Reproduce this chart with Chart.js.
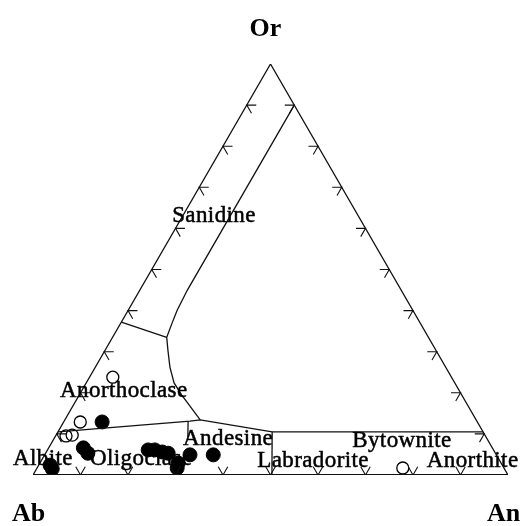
<!DOCTYPE html>
<html>
<head>
<meta charset="utf-8">
<title>Feldspar ternary</title>
<script src="https://cdn.jsdelivr.net/npm/chart.js@4/dist/chart.umd.min.js"></script>
<style>
  html, body { margin: 0; padding: 0; background: #fff; }
</style>
</head>
<body>
<canvas id="myChart" width="521" height="526"></canvas>
<script>
const ctx = document.getElementById("myChart");

// compositions are [An, Or] in percent, Ab = 100 - An - Or
const filledPoints = [
  [8.1, 12.9], [7.3, 6.6], [8.9, 5.3], [2.4, 2.4], [3.3, 1.5],
  [21.2, 6.1], [22.6, 6.1], [24.4, 5.6], [25.8, 5.3],
  [29.1, 2.9], [29.5, 1.7], [30.6, 4.9], [35.5, 4.9]
];
const openPoints = [
  [4.9, 23.8], [3.5, 12.9], [3.4, 9.7], [2.2, 9.5], [77.0, 1.7]
];

// field boundaries
const outline = [[0, 0], [100, 0], [0, 100], [0, 0]];
const sanidineLine = [
  [10, 90], [10, 45], [10.3, 40.1], [10.8, 36.95], [11.4, 33.5],
  [13.2, 30.4], [15.7, 26.25], [18.5, 22.4], [21.6, 19.45], [28.5, 13.4]
];
const anorthoclaseLine = [[0, 37.2], [11.4, 33.5]];
const plagioclaseLine = [[0, 10.5], [26.5, 13.1], [28.5, 13.4], [45.1, 10.5], [89.5, 10.5]];
const andesineLine = [[45.1, 10.5], [50.3, 0]];
const oligoclaseLine = [[26.1, 13.1], [28.0, 9.2]];

const tickValues = [10, 20, 30, 40, 50, 60, 70, 80, 90];
const fieldNames = ["Sanidine", "Anorthoclase", "Albite", "Oligoclase", "Andesine",
  "Labradorite", "Bytownite", "Anorthite"];
const cornerNames = ["Ab", "An", "Or"];

const H = Math.sqrt(3) / 2;

function toXY(c) {
  const an = c[0] / 100, or = c[1] / 100;
  return { x: an + or / 2, y: or * H };
}

// small double ticks on every side, each stroke parallel to another side
function buildTicks() {
  const L = 2;
  const out = [];
  const gap = { x: NaN, y: NaN };
  tickValues.forEach((t) => {
    // Ab-An side
    out.push(toXY([t - L, L]), toXY([t, 0]), toXY([t, L]), gap);
    // Ab-Or side
    out.push(toXY([L, t]), toXY([0, t]), toXY([L, t - L]), gap);
    // An-Or side
    out.push(toXY([100 - t - L, t]), toXY([100 - t, t]), toXY([100 - t, t - L]), gap);
  });
  return out;
}

function lineSet(pts, width) {
  return {
    type: "scatter",
    data: pts.map(toXY),
    showLine: true,
    borderColor: "#111",
    borderWidth: width || 1.3,
    pointRadius: 0,
    fill: false,
    tension: 0,
  };
}

const labelPlugin = {
  id: "ternaryLabels",
  afterDatasetsDraw(chart) {
    const c = chart.ctx;
    const xs = chart.scales.x, ys = chart.scales.y;
    const px = (v) => xs.getPixelForValue(v);
    const py = (v) => ys.getPixelForValue(v);
    // left/baseline anchors in plot units
    const fieldPos = [
      [0.293, 0.533], [0.057, 0.164], [-0.042, 0.021], [0.12, 0.021],
      [0.316, 0.063], [0.472, 0.017], [0.672, 0.059], [0.829, 0.017]
    ];
    c.save();
    c.fillStyle = "#000";
    c.strokeStyle = "#000";
    c.lineWidth = 0.5;
    c.textAlign = "left";
    c.textBaseline = "alphabetic";
    c.font = "23px 'Liberation Serif', 'Times New Roman', serif";
    c.letterSpacing = "0.4px";
    fieldNames.forEach((name, i) => {
      const x = px(fieldPos[i][0]), y = py(fieldPos[i][1]);
      c.fillText(name, x, y);
      c.strokeText(name, x, y);
    });
    c.letterSpacing = "0px";
    c.font = "bold 26px 'Liberation Serif', 'Times New Roman', serif";
    const ab = { x: px(0), y: py(0) };
    const an = { x: px(1), y: py(0) };
    const or = { x: px(0.5), y: py(H) };
    c.fillText(cornerNames[0], ab.x - 21, ab.y + 46);
    c.fillText(cornerNames[1], an.x - 21, an.y + 46);
    c.textAlign = "center";
    c.fillText(cornerNames[2], or.x - 5, or.y - 28);
    c.restore();
  },
};

let data = {
  datasets: [
    lineSet(outline),
    {
      type: "scatter",
      data: [toXY([0, 0]), toXY([100, 0])],
      showLine: true,
      borderColor: "#111",
      borderWidth: 2,
      pointRadius: 0,
    },
    lineSet(sanidineLine),
    lineSet(anorthoclaseLine),
    lineSet(plagioclaseLine),
    lineSet(andesineLine),
    lineSet(oligoclaseLine),
    {
      type: "scatter",
      data: buildTicks(),
      showLine: true,
      spanGaps: false,
      borderColor: "#111",
      borderWidth: 1.1,
      pointRadius: 0,
    },
    {
      label: "filled",
      type: "scatter",
      data: filledPoints.map(toXY),
      pointRadius: 7,
      pointBackgroundColor: "#000",
      pointBorderColor: "#000",
      pointBorderWidth: 1,
    },
    {
      label: "open",
      type: "scatter",
      data: openPoints.map(toXY),
      pointRadius: 6,
      pointBackgroundColor: "rgba(0,0,0,0)",
      pointBorderColor: "#000",
      pointBorderWidth: 1.3,
    },
  ],
};

let graphic = new Chart(ctx, {
  type: "scatter",
  data: data,
  options: {
    responsive: false,
    animation: false,
    devicePixelRatio: 1,
    layout: { padding: { left: 33, right: 13, top: 64, bottom: 51 } },
    plugins: { legend: { display: false }, tooltip: { enabled: false } },
    scales: {
      x: { type: "linear", min: 0, max: 1, display: false },
      y: { type: "linear", min: 0, max: H, display: false },
    },
  },
  plugins: [labelPlugin],
});
</script>
</body>
</html>
